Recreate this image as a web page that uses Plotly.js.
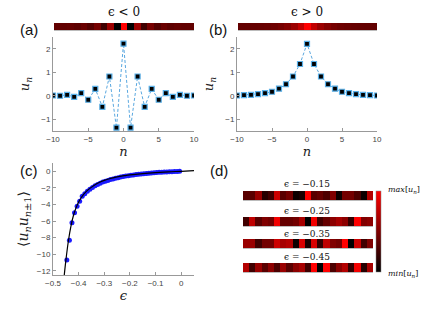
<!DOCTYPE html>
<html><head><meta charset="utf-8">
<script src="https://cdn.plot.ly/plotly-3.0.1.min.js"></script>
<style>html,body{margin:0;padding:0;background:#fff;}#chart{width:436px;height:309px;}</style>
</head><body><div id="chart"></div>
<script>
// ---- data ----
const nSites = [-10,-9,-8,-7,-6,-5,-4,-3,-2,-1,0,1,2,3,4,5,6,7,8,9,10];
const uNeg = [0.01,0.0,0.04,-0.05,0.11,-0.17,0.29,-0.47,0.82,-1.36,2.22,-1.36,0.82,-0.47,0.29,-0.17,0.11,-0.05,0.04,0.0,0.01];
const uPos = [0.01,0.03,0.04,0.07,0.11,0.17,0.30,0.49,0.82,1.35,2.21,1.35,0.82,0.49,0.30,0.17,0.11,0.07,0.04,0.03,0.01];

const epsDots = [-0.446,-0.436,-0.426,-0.416,-0.406,-0.396,-0.386,-0.376,-0.366,-0.356,-0.346,-0.336,-0.326,-0.316,-0.306,-0.296,-0.286,-0.276,-0.266,-0.256,-0.246,-0.236,-0.226,-0.216,-0.206,-0.196,-0.186,-0.176,-0.166,-0.156,-0.146,-0.136,-0.126,-0.116,-0.106,-0.096,-0.086,-0.076,-0.066,-0.056,-0.046,-0.036,-0.026,-0.016,-0.006];
const corrDots = [-10.7,-8.3,-6.2,-5.0,-4.2,-3.6,-3.0,-2.7,-2.4,-2.15,-1.95,-1.75,-1.6,-1.45,-1.3,-1.2,-1.1,-1.0,-0.92,-0.84,-0.77,-0.70,-0.64,-0.58,-0.53,-0.48,-0.44,-0.40,-0.36,-0.32,-0.29,-0.26,-0.23,-0.20,-0.18,-0.15,-0.13,-0.11,-0.09,-0.07,-0.05,-0.04,-0.02,-0.01,0.0];
const epsCurve = [-0.456,-0.45,-0.44,-0.43,-0.42,-0.41,-0.40,-0.38,-0.36,-0.34,-0.32,-0.30,-0.28,-0.25,-0.22,-0.20,-0.15,-0.10,-0.05,0.0,0.05];
const corrCurve = [-12.5,-10.8,-8.4,-6.6,-5.3,-4.4,-3.7,-2.75,-2.15,-1.7,-1.35,-1.1,-0.9,-0.68,-0.52,-0.43,-0.27,-0.15,-0.06,0.0,0.07];

const stripLabels = ['ϵ = −0.15','ϵ = −0.25','ϵ = −0.35','ϵ = −0.45'];
const strip015 = [0.35,0.35,0.6,0.15,0.25,0.8,0.35,0.45,0.05,0.1,1.0,0.35,0.4,0.3,0.5,0.05,0.45,0.45,0.3,0.05,0.7];
const strip025 = [0.25,0.75,0.35,0.5,0.45,0.95,0.4,0.4,0.45,0.65,0.0,0.95,0.25,0.4,0.55,0.65,0.55,0.2,1.0,0.5,0.55];
const strip035 = [0.6,0.6,0.25,0.45,0.45,0.8,0.65,0.7,0.05,0.85,0.1,0.85,0.2,0.75,0.5,0.45,1.0,0.0,0.8,0.25,0.5];
const strip045 = [0.7,0.25,0.6,0.35,0.55,0.3,0.6,0.35,0.55,0.65,0.25,1.0,0.0,1.0,0.3,0.55,0.7,0.2,0.95,0.15,0.65];
const strips = [strip015, strip025, strip035, strip045];

// ---- helpers ----
const W = 436, H = 309;
const px = v => v / W;
const py = v => 1 - v / H;
const redScale = [[0,'#000000'],[1,'#ff0000']];
const serif = 'DejaVu Serif, Liberation Serif, serif';
const sans = 'Liberation Sans, Arial, sans-serif';

function plotAxis(x0, x1, extra) {
  return Object.assign({
    domain: [px(x0), px(x1)], showline: true, linecolor: '#999', linewidth: 1,
    ticks: 'inside', ticklen: 3, tickcolor: '#999', showgrid: false, zeroline: false,
    tickfont: {size: 8, color: '#444', family: sans}
  }, extra);
}
function hiddenAxis(a0, a1, isX, range) {
  return {domain: isX ? [px(a0), px(a1)] : [py(a1), py(a0)], range: range,
    showticklabels: false, ticks: '', showgrid: false, zeroline: false,
    showline: isX, linecolor: '#bbb', linewidth: 1, fixedrange: true};
}

const mk = {symbol: 'square', size: 5, color: '#000', line: {color: '#5ab0e8', width: 1.2}};
const ln = {color: '#5aa8e0', width: 1, dash: '3px,2px'};

const traces = [
  {x: nSites, y: uNeg, type: 'scatter', mode: 'lines+markers', marker: mk, line: ln, xaxis: 'x', yaxis: 'y', showlegend: false},
  {x: nSites, y: uPos, type: 'scatter', mode: 'lines+markers', marker: mk, line: ln, xaxis: 'x2', yaxis: 'y2', showlegend: false},
  {x: nSites, y: [0], z: [uNeg], type: 'heatmap', colorscale: redScale, zmin: -1.36, zmax: 2.22, showscale: false, xaxis: 'x3', yaxis: 'y3'},
  {x: nSites, y: [0], z: [uPos], type: 'heatmap', colorscale: redScale, zmin: -1.36, zmax: 2.22, showscale: false, xaxis: 'x4', yaxis: 'y4'},
  {x: epsDots, y: corrDots, type: 'scatter', mode: 'markers', marker: {color: '#1a1aff', size: 5}, xaxis: 'x5', yaxis: 'y5', showlegend: false},
  {x: epsCurve, y: corrCurve, type: 'scatter', mode: 'lines', line: {color: '#000', width: 1.2, shape: 'spline'}, xaxis: 'x5', yaxis: 'y5', showlegend: false}
];

const stripY = [[191,200],[217,226],[239,248],[263,272]];
strips.forEach((s, i) => {
  const t = {x: nSites, y: [0], z: [s], type: 'heatmap', colorscale: redScale, zmin: 0, zmax: 1,
    showscale: i === 0, xaxis: 'x' + (6 + i), yaxis: 'y' + (6 + i)};
  if (i === 0) {
    t.colorbar = {x: px(376), xanchor: 'left', xref: 'paper', y: py(272), yanchor: 'bottom', yref: 'paper',
      len: 81 / H, lenmode: 'fraction', thickness: 5, thicknessmode: 'pixels',
      outlinewidth: 0.5, outlinecolor: '#888', showticklabels: false, ticks: '', xpad: 0, ypad: 0};
  }
  traces.push(t);
});

const tfont = {family: serif, size: 13, color: '#222'};
const layout = {
  width: W, height: H, margin: {l: 0, r: 0, t: 0, b: 0},
  paper_bgcolor: '#fff', plot_bgcolor: 'rgba(0,0,0,0)', showlegend: false,
  xaxis: plotAxis(53, 194, {anchor: 'y', range: [-10, 10], tickvals: [-10,-5,0,5,10],
    title: {text: '<i>n</i>', font: tfont, standoff: 2}}),
  yaxis: Object.assign(plotAxis(0, 0, {anchor: 'x', range: [-1.5, 2.5], tickvals: [-1,0,1,2],
    title: {text: '<i>u</i><sub><i>n</i></sub>', font: tfont, standoff: 8}}), {domain: [py(131), py(37)]}),
  xaxis2: plotAxis(237, 377, {anchor: 'y2', range: [-10, 10], tickvals: [-10,-5,0,5,10],
    title: {text: '<i>n</i>', font: tfont, standoff: 2}}),
  yaxis2: Object.assign(plotAxis(0, 0, {anchor: 'x2', range: [-1.5, 2.5], tickvals: [-1,0,1,2],
    title: {text: '<i>u</i><sub><i>n</i></sub>', font: tfont, standoff: 8}}), {domain: [py(131), py(37)]}),
  xaxis3: Object.assign(hiddenAxis(54, 194, true, [-10.5, 10.5]), {anchor: 'y3'}),
  yaxis3: Object.assign(hiddenAxis(23, 30, false, [-0.5, 0.5]), {anchor: 'x3'}),
  xaxis4: Object.assign(hiddenAxis(238, 377, true, [-10.5, 10.5]), {anchor: 'y4'}),
  yaxis4: Object.assign(hiddenAxis(23, 30, false, [-0.5, 0.5]), {anchor: 'x4'}),
  xaxis5: plotAxis(53, 194, {anchor: 'y5', range: [-0.5, 0.05], tickvals: [-0.5,-0.4,-0.3,-0.2,-0.1,0],
    title: {text: '<i>ϵ</i>', font: tfont, standoff: 4}}),
  yaxis5: Object.assign(plotAxis(0, 0, {anchor: 'x5', range: [-12.5, 1], tickvals: [0,-2,-4,-6,-8,-10,-12],
    title: {text: '⟨<i>u</i><sub><i>n</i></sub><i>u</i><sub><i>n</i>±1</sub>⟩', font: {family: serif, size: 14, color: '#222'}, standoff: 4}}), {domain: [py(275), py(163)]}),
  annotations: []
};
stripY.forEach((r, i) => {
  layout['xaxis' + (6 + i)] = Object.assign(hiddenAxis(243, 373, true, [-10.5, 10.5]), {anchor: 'y' + (6 + i)});
  layout['yaxis' + (6 + i)] = Object.assign(hiddenAxis(r[0], r[1], false, [-0.5, 0.5]), {anchor: 'x' + (6 + i)});
});

function ann(text, x, y, size, family, extra) {
  layout.annotations.push(Object.assign({text: text, x: px(x), y: py(y), xref: 'paper', yref: 'paper',
    showarrow: false, xanchor: 'center', yanchor: 'middle', font: {size: size, family: family, color: '#111'}}, extra || {}));
}
ann('(a)', 29, 30, 15, sans);
ann('(b)', 218, 30, 15, sans);
ann('(c)', 29, 170, 15, sans);
ann('(d)', 219, 170, 15, sans);
ann('ϵ < 0', 124, 12, 12, serif);
ann('ϵ > 0', 307, 12, 12, serif);
stripLabels.forEach((t, i) => ann(t, 307, [184, 211, 234, 257][i], 9, serif));
ann('<i>max</i>[<i>u</i><sub><i>n</i></sub>]', 386, 190, 8, serif, {xanchor: 'left'});
ann('<i>min</i>[<i>u</i><sub><i>n</i></sub>]', 386, 274, 8, serif, {xanchor: 'left'});

Plotly.newPlot('chart', traces, layout, {staticPlot: true, displayModeBar: false});
</script></body></html>
